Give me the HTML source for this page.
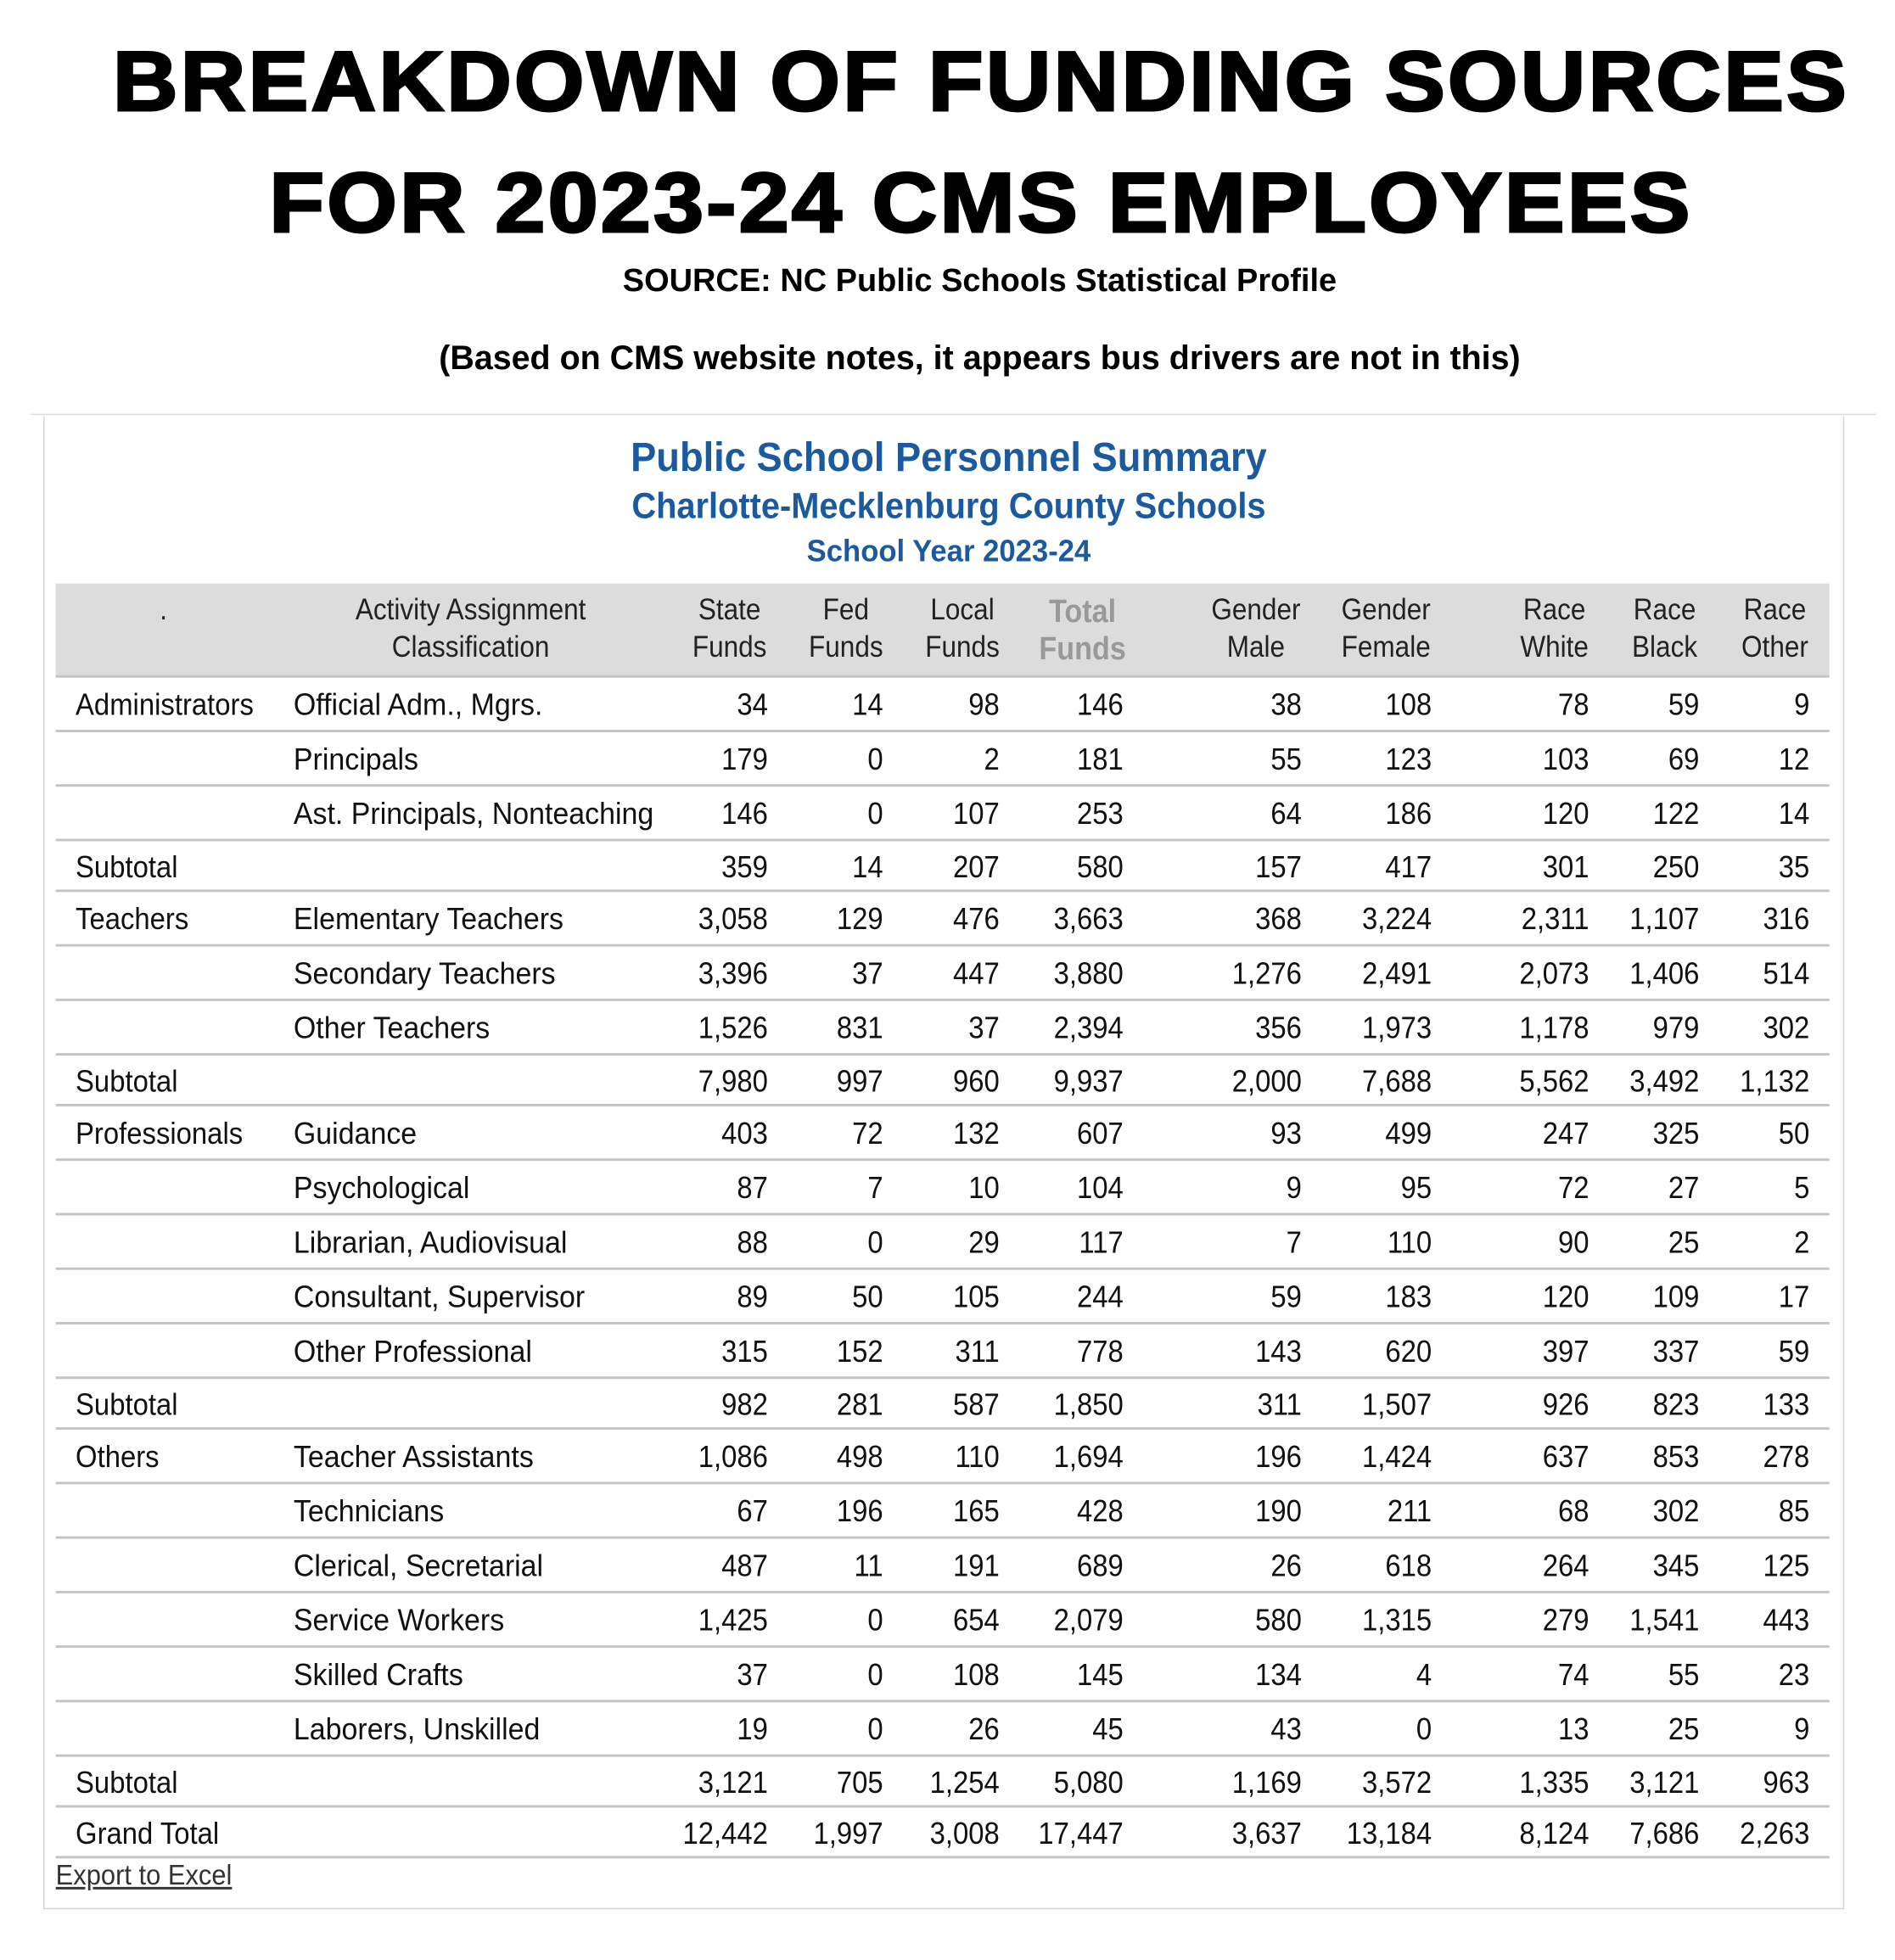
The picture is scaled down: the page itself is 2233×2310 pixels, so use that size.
<!DOCTYPE html>
<html><head><meta charset="utf-8">
<style>
html,body{margin:0;padding:0;background:#fff;}
#wrap{width:2233px;height:2310px;overflow:hidden;position:relative;}
#stage{position:absolute;left:0;top:0;width:1530px;height:1582px;transform:scale(1.4595,1.4602);transform-origin:0 0;}
.abs{position:absolute;white-space:nowrap;}
.t1{font-family:"Liberation Sans",sans-serif;font-weight:bold;font-size:68px;left:0;width:1584px;text-align:center;color:#000;letter-spacing:2px;-webkit-text-stroke:2px #000;transform:scaleX(1.07);transform-origin:792px 0;}
.t2{font-family:"Liberation Sans",sans-serif;font-weight:bold;left:0;width:1582px;text-align:center;color:#000;}
.nar{font-family:"Liberation Sans Narrow","Liberation Sans",sans-serif;}
.blue{color:#1c5aa0;font-weight:bold;text-align:center;left:0;width:1532px;transform-origin:766px 0;}
.cell{font-size:25px;color:#111;line-height:24px;}
.hd{font-size:24px;color:#222;text-align:center;line-height:30px;transform:scaleX(0.9);}
.rule{position:absolute;left:45px;width:1432px;height:2px;background:#c4c4c4;}
</style></head><body>
<div id="wrap"><div id="stage">
<div class="abs t1" style="top:27px">BREAKDOWN OF FUNDING SOURCES</div>
<div class="abs t1" style="top:125px">FOR 2023-24 CMS EMPLOYEES</div>
<div class="abs t2" style="top:211px;font-size:26px">SOURCE: NC Public Schools Statistical Profile</div>
<div class="abs t2" style="top:274px;font-size:27px">(Based on CMS website notes, it appears bus drivers are not in this)</div>
<div class="abs" style="left:25px;top:334px;width:1490px;height:1px;background:#ddd"></div>
<div class="abs" style="left:35px;top:336px;width:1452px;height:1204px;border:1px solid #d4d4d4;border-top:none"></div>
<div class="abs nar blue" style="top:350px;font-size:33px;transform:scaleX(0.94)">Public School Personnel Summary</div>
<div class="abs nar blue" style="top:393px;font-size:29px;transform:scaleX(0.94)">Charlotte-Mecklenburg County Schools</div>
<div class="abs nar blue" style="top:431px;font-size:25px;transform:scaleX(0.95)">School Year 2023-24</div>
<div class="abs" style="left:45px;top:471px;width:1432px;height:75px;background:#dcdcdc"></div>
<div class="abs nar" style="left:45px;top:1500px;font-size:23px;color:#333;text-decoration:underline;transform:scaleX(0.92);transform-origin:0 0">Export to Excel</div>
</div></div>
<script>
const categories=["Administrators","","","Subtotal","Teachers","","","Subtotal","Professionals","","","","","Subtotal","Others","","","","","","Subtotal","Grand Total"];
const classifications=["Official Adm., Mgrs.","Principals","Ast. Principals, Nonteaching","","Elementary Teachers","Secondary Teachers","Other Teachers","","Guidance","Psychological","Librarian, Audiovisual","Consultant, Supervisor","Other Professional","","Teacher Assistants","Technicians","Clerical, Secretarial","Service Workers","Skilled Crafts","Laborers, Unskilled","",""];
const stateFunds=["34","179","146","359","3,058","3,396","1,526","7,980","403","87","88","89","315","982","1,086","67","487","1,425","37","19","3,121","12,442"];
const fedFunds=["14","0","0","14","129","37","831","997","72","7","0","50","152","281","498","196","11","0","0","0","705","1,997"];
const localFunds=["98","2","107","207","476","447","37","960","132","10","29","105","311","587","110","165","191","654","108","26","1,254","3,008"];
const totalFunds=["146","181","253","580","3,663","3,880","2,394","9,937","607","104","117","244","778","1,850","1,694","428","689","2,079","145","45","5,080","17,447"];
const genderMale=["38","55","64","157","368","1,276","356","2,000","93","9","7","59","143","311","196","190","26","580","134","43","1,169","3,637"];
const genderFemale=["108","123","186","417","3,224","2,491","1,973","7,688","499","95","110","183","620","1,507","1,424","211","618","1,315","4","0","3,572","13,184"];
const raceWhite=["78","103","120","301","2,311","2,073","1,178","5,562","247","72","90","120","397","926","637","68","264","279","74","13","1,335","8,124"];
const raceBlack=["59","69","122","250","1,107","1,406","979","3,492","325","27","25","109","337","823","853","302","345","1,541","55","25","3,121","7,686"];
const raceOther=["9","12","14","35","316","514","302","1,132","50","5","2","17","59","133","278","85","125","443","23","9","963","2,263"];
const headers=[".","Activity Assignment\nClassification","State\nFunds","Fed\nFunds","Local\nFunds","Total\nFunds","Gender\nMale","Gender\nFemale","Race\nWhite","Race\nBlack","Race\nOther"];
const st=document.getElementById('stage');
const numCols=[stateFunds,fedFunds,localFunds,totalFunds,genderMale,genderFemale,raceWhite,raceBlack,raceOther];
const colNames=['state-funds','fed-funds','local-funds','total-funds','gender-male','gender-female','race-white','race-black','race-other'];
const rightEdges=[620,713,807,907,1051,1156,1283,1372,1461];
const hdrCenters=[132,380,589,683,777,874,1014,1119,1255,1344,1433];
function mk(cls,style,text){const d=document.createElement('div');d.className=cls;d.setAttribute('style',style);d.textContent=text;st.appendChild(d);return d;}
headers.forEach((h,i)=>{
  const d=mk('abs nar hd','left:'+(hdrCenters[i]-110)+'px;width:220px;top:478px;white-space:pre;'+(i==5?'color:#999;font-size:26px;font-weight:bold;':''),h);
  
  
});
let y=546;
const r0=mk('rule','top:545px','');


categories.forEach((c,i)=>{
  const sub=(c==='Subtotal'||c==='Grand Total');
  const h=sub?41:44;
  const ty=y+(h-24)/2+1;
  if(c){const d=mk('abs nar cell','left:61px;top:'+ty+'px;transform:scaleX(0.9);transform-origin:0 0',c);
    
    }
  if(classifications[i]){const d=mk('abs nar cell','left:237px;top:'+ty+'px;transform:scaleX(0.93);transform-origin:0 0',classifications[i]);
    
    }
  numCols.forEach((arr,j)=>{
    const d=mk('abs nar cell','left:'+(rightEdges[j]-150)+'px;width:150px;text-align:right;top:'+ty+'px;transform:scaleX(0.9);transform-origin:100% 0',arr[i]);
    
    
  });
  y+=h;
  const r=mk('rule','top:'+(y-1)+'px','');
  
  
});
</script>
</body></html>
